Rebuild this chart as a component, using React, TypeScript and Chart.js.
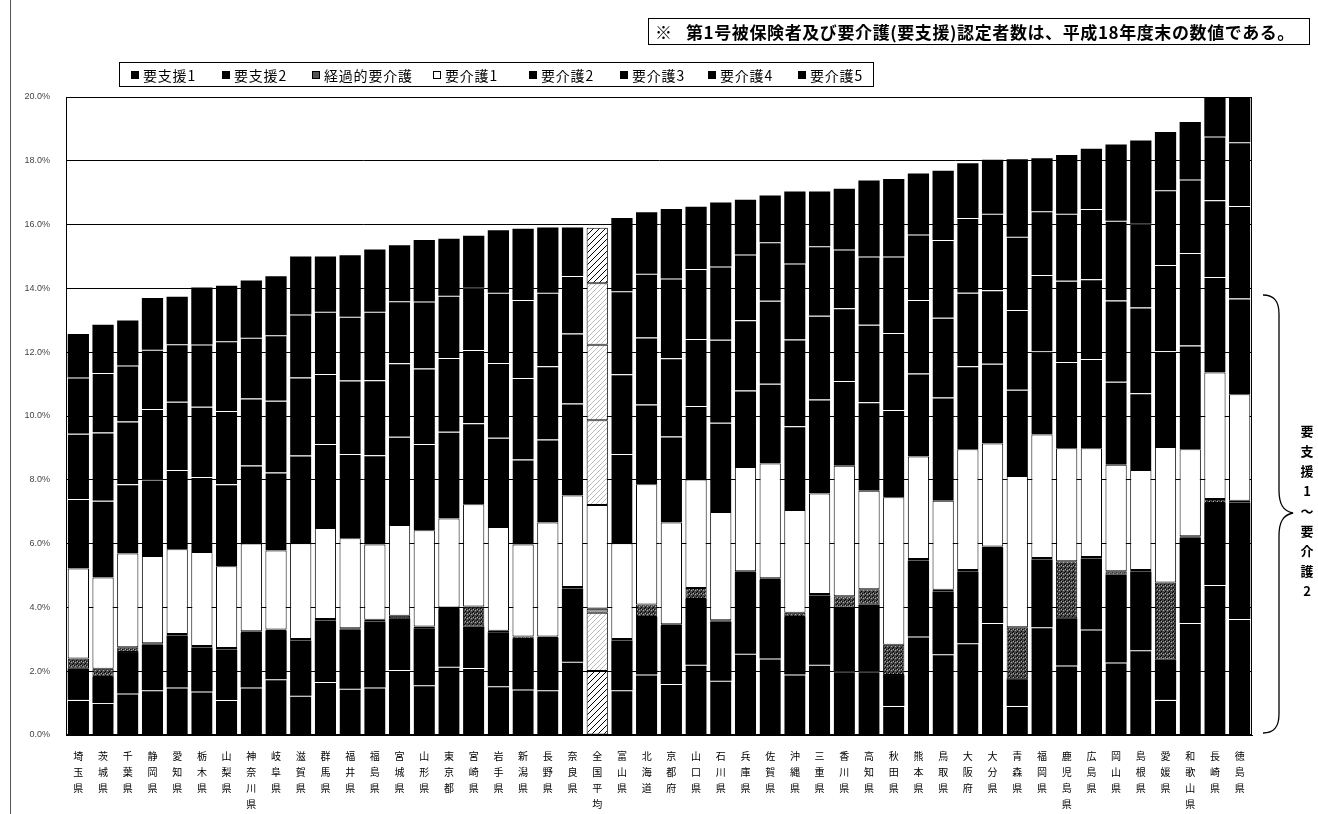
import React, { useEffect, useRef } from 'react';
import { Chart, registerables } from 'chart.js';

Chart.register(...registerables);

const prefectures = [
  '埼玉県', '茨城県', '千葉県', '静岡県', '愛知県', '栃木県', '山梨県', '神奈川県', '岐阜県', '滋賀県',
  '群馬県', '福井県', '福島県', '宮城県', '山形県', '東京都', '宮崎県', '岩手県', '新潟県', '長野県',
  '奈良県', '全国平均', '富山県', '北海道', '京都府', '山口県', '石川県', '兵庫県', '佐賀県', '沖縄県',
  '三重県', '香川県', '高知県', '秋田県', '熊本県', '鳥取県', '大阪府', '大分県', '青森県', '福岡県',
  '鹿児島県', '広島県', '岡山県', '島根県', '愛媛県', '和歌山県', '長崎県', '徳島県',
];

const yoshien1 = [
  1.10, 1.00, 1.30, 1.40, 1.49, 1.36, 1.10, 1.49, 1.75, 1.23,
  1.66, 1.45, 1.49, 2.04, 1.56, 2.14, 2.10, 1.53, 1.43, 1.40,
  2.30, 2.01, 1.40, 1.90, 1.60, 2.20, 1.70, 2.55, 2.40, 1.90,
  2.20, 2.00, 2.00, 0.91, 3.09, 2.53, 2.88, 3.51, 0.91, 3.38,
  2.18, 3.31, 2.27, 2.66, 1.10, 3.51, 4.70, 3.64,
];
const yoshien2 = [
  0.98, 0.82, 1.30, 1.43, 1.63, 1.38, 1.58, 1.71, 1.51, 1.73,
  1.93, 1.85, 2.07, 1.62, 1.79, 1.81, 1.30, 1.69, 1.58, 1.64,
  2.29, 1.82, 1.56, 1.80, 1.82, 2.06, 1.85, 2.53, 2.46, 1.80,
  2.17, 2.00, 2.09, 0.97, 2.38, 1.97, 2.24, 2.35, 0.84, 2.12,
  1.48, 2.22, 2.76, 2.46, 1.26, 2.67, 2.57, 3.65,
];
const keikateki = [
  0.32, 0.26, 0.15, 0.05, 0.05, 0.05, 0.05, 0.05, 0.05, 0.05,
  0.05, 0.05, 0.05, 0.08, 0.05, 0.05, 0.63, 0.05, 0.08, 0.05,
  0.05, 0.13, 0.05, 0.39, 0.05, 0.35, 0.05, 0.05, 0.05, 0.13,
  0.05, 0.35, 0.48, 0.95, 0.05, 0.05, 0.05, 0.05, 1.63, 0.05,
  1.79, 0.05, 0.10, 0.05, 2.42, 0.05, 0.13, 0.05,
];
const kaigo1 = [
  2.82, 2.86, 2.94, 2.73, 2.65, 2.95, 2.56, 2.75, 2.47, 3.00,
  2.85, 2.82, 2.36, 2.84, 3.02, 2.79, 3.20, 3.25, 2.88, 3.57,
  2.87, 3.25, 3.00, 3.77, 3.19, 3.40, 3.39, 3.27, 3.60, 3.22,
  3.15, 4.09, 3.09, 4.62, 3.21, 2.79, 3.79, 3.23, 4.74, 3.87,
  3.54, 3.41, 3.34, 3.14, 4.25, 2.73, 3.96, 3.34,
];
const kaigo2 = [
  2.18, 2.40, 2.17, 2.40, 2.49, 2.35, 2.57, 2.45, 2.45, 2.75,
  2.63, 2.64, 2.80, 2.77, 2.70, 2.72, 2.54, 2.80, 2.67, 2.60,
  2.88, 2.66, 2.80, 2.50, 2.70, 2.30, 2.80, 2.40, 2.50, 2.63,
  2.95, 2.66, 2.77, 2.74, 2.60, 3.24, 2.60, 2.50, 2.70, 2.60,
  2.70, 2.80, 2.60, 2.40, 3.00, 3.25, 3.00, 3.00,
];
const kaigo3 = [
  2.04, 2.14, 1.97, 2.21, 2.14, 2.20, 2.30, 2.10, 2.25, 2.45,
  2.20, 2.30, 2.35, 2.30, 2.37, 2.31, 2.30, 2.34, 2.55, 2.30,
  2.20, 2.36, 2.50, 2.10, 2.45, 2.10, 2.60, 2.20, 2.60, 2.72,
  2.62, 2.28, 2.43, 2.41, 2.31, 2.50, 2.30, 2.30, 2.50, 2.40,
  2.55, 2.50, 2.55, 2.69, 2.70, 2.90, 2.40, 2.90,
];
const kaigo4 = [
  1.77, 1.87, 1.75, 1.86, 1.80, 1.95, 2.18, 1.90, 2.05, 1.97,
  1.95, 2.00, 2.15, 1.95, 2.10, 1.95, 1.95, 2.20, 2.45, 2.30,
  1.80, 1.93, 2.60, 2.00, 2.50, 2.20, 2.30, 2.06, 1.84, 2.38,
  2.18, 1.84, 2.14, 2.40, 2.05, 2.44, 2.35, 2.40, 2.30, 2.00,
  2.10, 2.20, 2.50, 2.63, 2.35, 2.30, 2.00, 2.00,
];
const kaigo5 = [
  1.36, 1.51, 1.41, 1.62, 1.49, 1.79, 1.74, 1.80, 1.85, 1.82,
  1.73, 1.93, 1.95, 1.75, 1.93, 1.79, 1.63, 1.96, 2.23, 2.05,
  1.52, 1.74, 2.30, 1.93, 2.18, 1.95, 2.00, 1.72, 1.46, 2.26,
  1.72, 1.90, 2.38, 2.43, 1.91, 2.17, 1.71, 1.69, 2.43, 1.66,
  1.84, 1.89, 2.39, 2.61, 1.82, 1.81, 1.29, 1.47,
];

const seriesNames = ['要支援1', '要支援2', '経過的要介護', '要介護1', '要介護2', '要介護3', '要介護4', '要介護5'];
const yMin = 0;
const yMax = 20;
const yStep = 2;
const noteText = '第1号被保険者及び要介護(要支援)認定者数は、平成18年度末の数値である。';
const braceText = ['要', '支', '援', '1', '～', '要', '介', '護', '2'];

function makeHatch(color: string, width: number, size: number) {
  const c = document.createElement('canvas');
  c.width = size;
  c.height = size;
  const g = c.getContext('2d')!;
  g.fillStyle = '#fff';
  g.fillRect(0, 0, size, size);
  g.strokeStyle = color;
  g.lineWidth = width;
  g.beginPath();
  g.moveTo(0, size);
  g.lineTo(size, 0);
  g.moveTo(-size / 2, size / 2);
  g.lineTo(size / 2, -size / 2);
  g.moveTo(size / 2, size * 1.5);
  g.lineTo(size * 1.5, size / 2);
  g.stroke();
  return g.createPattern(c, 'repeat')!;
}

function makeStipple() {
  const c = document.createElement('canvas');
  c.width = 4;
  c.height = 4;
  const g = c.getContext('2d')!;
  g.fillStyle = '#4a4a4a';
  g.fillRect(0, 0, 4, 4);
  g.fillStyle = '#000';
  g.fillRect(0, 0, 1, 1);
  g.fillRect(2, 1, 1, 1);
  g.fillRect(1, 3, 1, 1);
  g.fillStyle = '#aaa';
  g.fillRect(3, 2, 1, 1);
  g.fillRect(1, 1, 1, 1);
  return g.createPattern(c, 'repeat')!;
}

const legendItems = [
  { x: 131, kind: 'black' },
  { x: 222, kind: 'black' },
  { x: 312, kind: 'stipple' },
  { x: 433, kind: 'white' },
  { x: 529, kind: 'black' },
  { x: 620, kind: 'black' },
  { x: 708, kind: 'black' },
  { x: 798, kind: 'black' },
];

export default function App() {
  const ref = useRef<HTMLCanvasElement>(null);

  useEffect(() => {
    const canvas = ref.current!;
    const NAT = prefectures.indexOf('全国平均');
    const hatchDense = makeHatch('#000', 1, 6);
    const hatchLight = makeHatch('#aaa', 0.8, 5);
    const stipple = makeStipple();
    const segLine = 'rgba(255,255,255,0.28)';

    const blackSeg = (label: string, data: number[], topLine: boolean, natFill: CanvasPattern) => ({
      label,
      data,
      backgroundColor: (c: any) => (c.dataIndex === NAT ? natFill : '#000'),
      borderColor: (c: any) => (c.dataIndex === NAT ? '#000' : segLine),
      borderWidth: (c: any) =>
        c.dataIndex === NAT ? 1 : topLine ? { top: 1, bottom: 0, left: 0, right: 0 } : 0,
    });

    const framePlugin = {
      id: 'frame',
      afterDatasetsDraw(chart: any) {
        const { ctx, chartArea: a } = chart;
        ctx.save();
        ctx.strokeStyle = '#000';
        ctx.lineWidth = 1;
        ctx.strokeRect(a.left + 0.5, a.top + 0.5, a.right - a.left - 1, a.bottom - a.top - 1);
        ctx.restore();
      },
    };

    const chart = new Chart(canvas, {
      type: 'bar',
      data: {
        labels: prefectures.map((p) => p.split('')),
        datasets: [
          blackSeg(seriesNames[0], yoshien1, true, hatchDense),
          blackSeg(seriesNames[1], yoshien2, false, hatchLight),
          {
            label: seriesNames[2],
            data: keikateki,
            backgroundColor: (c: any) => (c.dataIndex === NAT ? '#999' : stipple),
            borderColor: '#000',
            borderWidth: 1,
          },
          {
            label: seriesNames[3],
            data: kaigo1,
            backgroundColor: '#fff',
            borderColor: '#000',
            borderWidth: 1,
          },
          blackSeg(seriesNames[4], kaigo2, true, hatchLight),
          blackSeg(seriesNames[5], kaigo3, true, hatchLight),
          blackSeg(seriesNames[6], kaigo4, true, hatchLight),
          blackSeg(seriesNames[7], kaigo5, false, hatchDense),
        ] as any,
      },
      options: {
        animation: false,
        responsive: false,
        layout: { padding: { left: 10, top: 97, right: 66, bottom: 0 } },
        datasets: { bar: { categoryPercentage: 1, barPercentage: 0.86, borderSkipped: false } as any },
        plugins: { legend: { display: false }, tooltip: { enabled: false } },
        scales: {
          x: {
            stacked: true,
            grid: { display: false },
            border: { display: true, color: '#000' },
            ticks: {
              autoSkip: false,
              maxRotation: 0,
              minRotation: 0,
              padding: 5,
              color: '#000',
              font: { family: '"Noto Sans CJK JP", sans-serif', size: 10, lineHeight: 1.6 },
            },
            afterFit: (s: any) => {
              s.height = 79;
            },
          },
          y: {
            stacked: true,
            min: yMin,
            max: yMax,
            ticks: {
              stepSize: yStep,
              padding: 16,
              color: '#444',
              font: { family: '"Liberation Sans", Arial, sans-serif', size: 9 },
              callback: (v: any) => Number(v).toFixed(1) + '%',
            },
            grid: { color: '#000', lineWidth: 1, drawTicks: false },
            border: { display: true, color: '#000' },
            afterFit: (s: any) => {
              s.width = 56;
            },
          },
        },
      },
      plugins: [framePlugin],
    });
    return () => chart.destroy();
  }, []);

  const jp = '"Noto Sans CJK JP", sans-serif';

  return (
    <div style={{ position: 'absolute', left: 0, top: 0, width: 1318, height: 814, background: '#fff', fontFamily: jp, overflow: 'hidden' }}>
      <canvas ref={ref} width={1318} height={814} style={{ position: 'absolute', left: 0, top: 0 }} />
      <div style={{ position: 'absolute', left: 10, top: 0, width: 1, height: 814, background: '#555' }} />
      <div
        style={{
          position: 'absolute', left: 648, top: 18, width: 662, height: 27, border: '1.5px solid #000',
          fontSize: 17, fontWeight: 700, lineHeight: '25px', whiteSpace: 'nowrap', color: '#000', boxSizing: 'border-box',
          paddingLeft: 6,
        }}
      >
        <span style={{ marginRight: 14 }}>※</span>
        <span style={{ letterSpacing: 0.6 }}>{noteText}</span>
      </div>
      <div style={{ position: 'absolute', left: 119, top: 62, width: 755, height: 25, border: '1px solid #000', boxSizing: 'border-box' }} />
      {legendItems.map((it, i) => (
        <div key={i} style={{ position: 'absolute', left: it.x, top: 62, height: 25, display: 'flex', alignItems: 'center', fontSize: 14, letterSpacing: 0.8, whiteSpace: 'nowrap', color: '#000' }}>
          <span
            style={{
              display: 'inline-block', width: 8, height: 8, marginRight: 4, boxSizing: 'border-box',
              background: it.kind === 'black' ? '#000' : it.kind === 'white' ? '#fff' : '#555',
              border: '1px solid #000',
            }}
          />
          {seriesNames[i]}
        </div>
      ))}
      <svg style={{ position: 'absolute', left: 1255, top: 290 }} width={50} height={450}>
        <path
          d="M 8 5 C 20 5, 24 12, 24 24 L 24 200 C 24 214, 28 221, 38 223 C 28 225, 24 232, 24 246 L 24 424 C 24 436, 20 443, 8 443"
          fill="none" stroke="#000" strokeWidth={1.3}
        />
      </svg>
      <div style={{ position: 'absolute', left: 1298, top: 421, width: 18, fontSize: 13, fontWeight: 700, lineHeight: '20px', textAlign: 'center', color: '#000' }}>
        {braceText.map((ch, i) => (
          <div key={i}>{ch}</div>
        ))}
      </div>
    </div>
  );
}
